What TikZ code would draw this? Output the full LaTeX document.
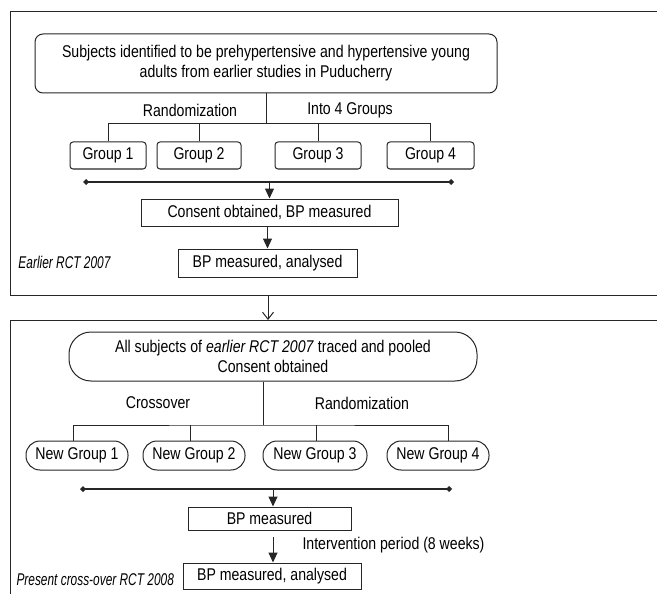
\documentclass[tikz,border=0pt]{standalone}
\usepackage{fontspec}
\setmainfont{Liberation Sans}[FakeStretch=0.83]
\newfontfamily\stagefont{Liberation Sans}[FakeStretch=0.70]
\usetikzlibrary{arrows.meta}

\begin{document}
\begin{tikzpicture}[%
        x = 1pt,
        y = -1pt,
        line width = 1pt,
        font = \fontsize{17}{20}\selectfont,
        every node/.style = {%
            inner sep = 0pt,
            text = black
        },
        plainbox/.style = {%
            draw = black!85,
            align = center
        },
        groupbox/.style = {%
            plainbox,
            rounded corners = 3pt
        },
        roundbox/.style = {%
            plainbox,
            rounded corners = 8pt
        },
        pillbox/.style = {%
            plainbox,
            rounded corners = 14pt
        },
        bar/.style = {%
            draw = black!85,
            line width = 2.2pt,
            {Diamond[length = 6pt, width = 6pt]}-{Diamond[length = 6pt, width = 6pt]}
        },
        flow/.style = {%
            draw = black!85,
            -{Triangle[length = 10pt, width = 9pt]}
        },
        stage/.style = {%
            font = \fontsize{17}{20}\stagefont\itshape,
            anchor = west
        }
    ]

        \useasboundingbox (0, 0) rectangle (657, 594);
        \clip (0, 0) rectangle (657, 594);

        % Frames of the two trials.
        \draw[draw = black!85] (10, 12) rectangle (690, 295);
        \draw[draw = black!85] (10, 320) rectangle (690, 640);
        \coordinate (earlyend) at (268, 295);
        \coordinate (presentstart) at (268, 320);
        \draw[draw = black!85, -{Straight Barb[length = 7pt, width = 11pt]}]
            (earlyend) -- (presentstart);

        % Earlier RCT 2007.
        \node[roundbox, minimum width = 462, minimum height = 59] (subjects) at (266, 63.5)
            {Subjects identified to be prehypertensive and hypertensive young\\
             adults from earlier studies in Puducherry};
        \node (randlabel) at (190, 110) {Randomization};
        \node (intolabel) at (350, 110) {Into 4 Groups};

        \node[groupbox, minimum width = 76, minimum height = 27] (group1) at (108, 155.5) {Group 1};
        \node[groupbox, minimum width = 84, minimum height = 27] (group2) at (199, 155.5) {Group 2};
        \node[groupbox, minimum width = 86, minimum height = 27] (group3) at (318, 155.5) {Group 3};
        \node[groupbox, minimum width = 87, minimum height = 27] (group4) at (430.5, 155.5) {Group 4};

        \coordinate (split1) at (266, 124);
        \draw[draw = black!85] (subjects) -- (split1);
        \draw[draw = black!85] (group1) -- (group1 |- split1) -- (group4 |- split1) -- (group4);
        \foreach \g in {group2, group3}
            \draw[draw = black!85] (\g) -- (\g |- split1);

        \coordinate (bar1w) at (83, 182);
        \coordinate (bar1e) at (454, 182);
        \draw[bar] (bar1w) -- (bar1e);

        \node[plainbox, minimum width = 257, minimum height = 27] (consent) at (269.5, 212.5)
            {Consent obtained, BP measured};
        \node[plainbox, minimum width = 179, minimum height = 28] (analysed1) at (267.5, 263)
            {BP measured, analysed};
        \node[stage] (earlylabel) at (18, 262) {Earlier RCT 2007};

        \draw[flow] (consent.north |- bar1w) -- (consent);
        \draw[flow] (consent.south -| analysed1.north) -- (analysed1);

        % Present cross-over RCT 2008.
        \node[plainbox, rounded corners = 22pt, minimum width = 408, minimum height = 49] (pooled) at (273, 356.5)
            {All subjects of \textit{earlier RCT 2007} traced and pooled\\
             Consent obtained};
        \node (crosslabel) at (158, 403) {Crossover};
        \node (rand2label) at (362, 403) {Randomization};

        \node[pillbox, minimum width = 102, minimum height = 29] (newgroup1) at (77, 455.5) {New Group 1};
        \node[pillbox, minimum width = 102, minimum height = 29] (newgroup2) at (194, 455.5) {New Group 2};
        \node[pillbox, minimum width = 104, minimum height = 29] (newgroup3) at (315, 455.5) {New Group 3};
        \node[pillbox, minimum width = 102, minimum height = 29] (newgroup4) at (438, 455.5) {New Group 4};

        \coordinate (split2) at (263, 425);
        \draw[draw = black!85] (pooled.south -| split2) -- (split2);
        \draw[draw = black!85] (73, 441) |- (split2) -| (448, 441);
        \draw[draw = black!85] (190, 441) -- (190, 425);
        \draw[draw = black!85] (316, 441) -- (316, 425);

        \coordinate (bar2w) at (80, 489);
        \coordinate (bar2e) at (452, 489);
        \draw[bar] (bar2w) -- (bar2e);

        \node[plainbox, minimum width = 163, minimum height = 23] (measured) at (269.5, 518.5) {BP measured};
        \node[plainbox, minimum width = 178, minimum height = 26] (analysed2) at (272, 576)
            {BP measured, analysed};
        \node[anchor = west] (periodlabel) at (302, 545) {Intervention period (8 weeks)};
        \node[stage] (presentlabel) at (16, 580) {Present cross-over RCT 2008};

        \coordinate (periodstart) at (273, 537);
        \draw[flow] (bar2w -| periodstart) -- (measured.north -| periodstart);
        \draw[flow] (periodstart) -- (periodstart |- analysed2.north);
    \end{tikzpicture}
\end{document}
